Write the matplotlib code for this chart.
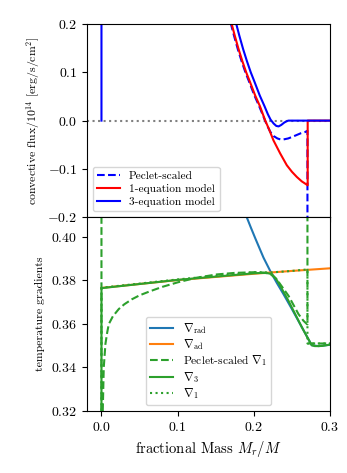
# convective flux and temperature gradients vs fractional mass
import numpy as np
import matplotlib
matplotlib.use('Agg')
import matplotlib.pyplot as plt

plt.rcParams['font.family'] = 'serif'
plt.rcParams['font.serif'] = ['cmr10', 'DejaVu Serif']
plt.rcParams['mathtext.fontset'] = 'cm'
plt.rcParams['axes.formatter.use_mathtext'] = True
plt.rcParams['axes.unicode_minus'] = True

# ---- top panel: convective flux / 1e14 ----
m_peclet = [0.166, 0.170, 0.174, 0.179, 0.184, 0.189, 0.194, 0.2008, 0.207, 0.2135, 0.2175, 0.2215,
            0.226, 0.231, 0.235, 0.239, 0.245, 0.250, 0.256, 0.262, 0.2674, 0.2704, 0.2704]
f_peclet = [0.225, 0.200, 0.176, 0.148, 0.123, 0.100, 0.080, 0.052, 0.030, 0.005, -0.010, -0.023,
            -0.032, -0.037, -0.039, -0.039, -0.037, -0.034, -0.030, -0.026, -0.0236, -0.021, -0.45]

m_one = [0.167, 0.171, 0.175, 0.180, 0.185, 0.190, 0.195, 0.2018, 0.208, 0.215, 0.220, 0.2258,
         0.2346, 0.2433, 0.250, 0.2564, 0.263, 0.2707, 0.2707, 0.30]
f_one = [0.225, 0.200, 0.176, 0.148, 0.123, 0.100, 0.080, 0.052, 0.030, 0.0, -0.018, -0.041,
         -0.068, -0.0925, -0.106, -0.1167, -0.126, -0.134, 0.0, 0.0]

m_three = [0.0, 0.0, 0.173, 0.177, 0.181, 0.186, 0.191, 0.196, 0.201, 0.2078, 0.214, 0.2185, 0.222,
           0.226, 0.2295, 0.2325, 0.236, 0.240, 0.2435, 0.2455, 0.30]
f_three = [0.0, 1.0, 0.225, 0.200, 0.176, 0.148, 0.123, 0.100, 0.080, 0.052, 0.030, 0.013, 0.002,
           -0.006, -0.011, -0.012, -0.009, -0.004, -0.001, 0.0, 0.0]

# ---- bottom panel: temperature gradients ----
m_rad = [0.186, 0.191, 0.196, 0.202, 0.2127, 0.2215, 0.230, 0.239, 0.250, 0.263, 0.276, 0.285, 0.30]
g_rad = [0.413, 0.4087, 0.4043, 0.3992, 0.3904, 0.3843, 0.3789, 0.3736, 0.3668, 0.3585, 0.3502, 0.3498, 0.3504]

m_ad = [0.0, 0.1, 0.2, 0.25, 0.30]
g_ad = [0.3765, 0.3801, 0.3830, 0.3843, 0.3855]

m_nab1p = [0.0, 0.0, np.nan, 0.0017, 0.0030, 0.0052, 0.0075, 0.0096, 0.015, 0.0227, 0.030, 0.040, 0.050,
           0.064, 0.080, 0.1005, 0.125, 0.1516, 0.175, 0.200, 0.215, 0.222, 0.230, 0.2455, 0.2586,
           0.2650, 0.2700, 0.2704, 0.2704, np.nan, 0.2704, 0.30]
g_nab1p = [0.45, 0.30, np.nan, 0.32, 0.340, 0.3508, 0.356, 0.3599, 0.3635, 0.3668, 0.3690, 0.3713, 0.3731,
           0.3750, 0.3770, 0.3791, 0.3812, 0.3827, 0.3834, 0.3837, 0.3835, 0.3828, 0.3805, 0.3729, 0.3645,
           0.3615, 0.3598, 0.3598, 0.45, np.nan, 0.3510, 0.3510]

m_nab3 = [0.0, 0.0, 0.1, 0.2, 0.210, 0.218, 0.2237, 0.2290, 0.2346, 0.2455, 0.2543, 0.263, 0.270, 0.276,
          0.280, 0.285, 0.290, 0.295, 0.300]
g_nab3 = [0.30, 0.3764, 0.3802, 0.3832, 0.3834, 0.3833, 0.3828, 0.3808, 0.3775, 0.3706, 0.3645, 0.3585,
          0.3540, 0.3502, 0.3498, 0.3498, 0.3499, 0.3502, 0.3505]

m_nab1 = [0.0, 0.0, 0.1, 0.2, 0.222, 0.25, 0.2704, 0.2704, 0.30]
g_nab1 = [0.30, 0.3766, 0.3804, 0.3837, 0.3836, 0.3843, 0.3850, 0.3510, 0.3510]

fig = plt.figure(figsize=(3.47, 4.73), dpi=100)
ax1 = fig.add_axes([0.2507, 0.541, 0.7003, 0.408])
ax2 = fig.add_axes([0.2507, 0.131, 0.7003, 0.410], sharex=ax1)

ax1.axhline(0, color='grey', ls=':', lw=1.5)
ax1.plot(m_peclet, f_peclet, color='blue', ls='--', lw=1.5, label='Peclet-scaled')
ax1.plot(m_one, f_one, color='red', lw=1.5, label='1-equation model')
ax1.plot(m_three, f_three, color='blue', lw=1.5, label='3-equation model')
ax1.set_ylim(-0.2, 0.2)
ax1.set_yticks([-0.2, -0.1, 0.0, 0.1, 0.2])
ax1.set_ylabel(r'convective flux$/10^{14}$ [erg/s/cm$^2$]', fontsize=8.5)
ax1.tick_params(labelsize=10, labelbottom=False)
ax1.legend(loc='lower left', fontsize=8.2, labelspacing=0.25)

ax2.plot(m_rad, g_rad, color='C0', lw=1.5, label=r'$\nabla_{\rm rad}$')
ax2.plot(m_ad, g_ad, color='C1', lw=1.5, label=r'$\nabla_{\rm ad}$')
ax2.plot(m_nab1p, g_nab1p, color='C2', ls='--', lw=1.5, label=r'Peclet-scaled $\nabla_1$')
ax2.plot(m_nab3, g_nab3, color='C2', lw=1.5, label=r'$\nabla_3$')
ax2.plot(m_nab1, g_nab1, color='C2', ls=':', lw=1.5, label=r'$\nabla_1$')
ax2.set_ylim(0.32, 0.409)
ax2.set_yticks([0.32, 0.34, 0.36, 0.38, 0.40])
ax2.set_xlim(-0.019, 0.3)
ax2.set_xticks([0.0, 0.1, 0.2, 0.3])
ax2.set_ylabel('temperature gradients', fontsize=8.5)
ax2.set_xlabel(r'fractional Mass $M_r/M$', fontsize=10.5)
ax2.tick_params(labelsize=10)
ax2.legend(loc='lower center', fontsize=8.3, labelspacing=0.1)

fig.savefig('out.png', dpi=100)
